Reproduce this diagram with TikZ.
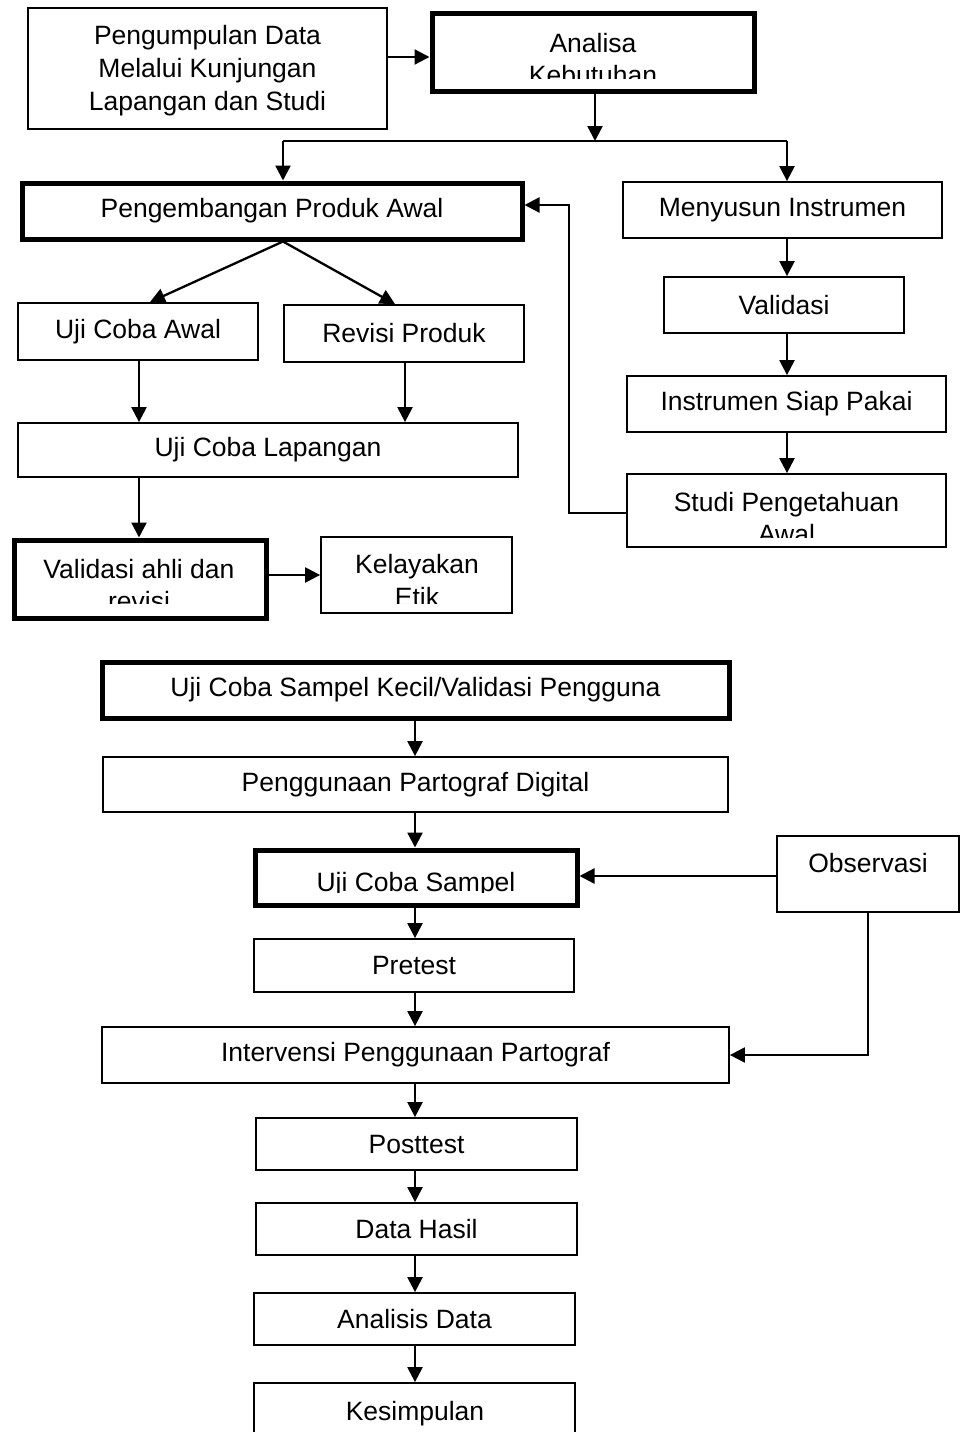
\documentclass[tikz,border=0pt]{standalone}
\usepackage{fontspec}
\setmainfont{Liberation Sans}
\usetikzlibrary{arrows.meta,fit}
\begin{document}
\begin{tikzpicture}[x=1pt,y=-1pt,
  every node/.style={font=\fontsize{26.5}{33}\selectfont},
  tbox/.style={draw, line width=1.8pt, inner sep=0pt},
  kbox/.style={draw, line width=5pt, inner sep=0pt},
  txt/.style={inner sep=0pt, align=center},
  lbl/.style={inner sep=0pt, anchor=base},
  arr/.style={line width=2.3pt, -{Triangle[length=15pt,width=15pt]}},
  ln/.style={line width=2.3pt}]
\fill[white] (0,0) rectangle (960,1432);
\useasboundingbox (0,0) rectangle (960,1432);

% ---------- top part ----------
\node[tbox, fit={(28,8)(387,129)}] (n1) {};
\node[txt] (t1) at (207.5,71) {Pengumpulan Data\\Melalui Kunjungan\\Lapangan dan Studi};

\node[kbox, fit={(432,13)(754,91)}] (n2) {};
\begin{scope}
\clip (432,13) rectangle (754,78);
\node[lbl] (t2a) at (593,52) {Analisa};
\node[lbl] (t2b) at (593,84) {Kebutuhan};
\end{scope}

\coordinate (y57) at (0,57);
\draw[arr] (n1.east |- y57) -- (n2.west |- y57);

\node[kbox, fit={(22,183)(522,239)}] (n3) {};
\node[txt] (t3) at (n3.center) {Pengembangan Produk Awal};
\node[tbox, fit={(623,182)(942,238)}] (n4) {};
\node[txt] (t4) at (n4.center) {Menyusun Instrumen};
\node[tbox, fit={(664,277)(904,333)}] (n5) {};
\node[txt] (t5) at (n5.center) {Validasi};
\node[tbox, fit={(627,376)(946,432)}] (n6) {};
\node[txt] (t6) at (n6.center) {Instrumen Siap Pakai};
\node[tbox, fit={(627,474)(946,547)}] (n7) {};
\begin{scope}
\clip (627,474) rectangle (946,537);
\node[lbl] (t7a) at (786.5,511) {Studi Pengetahuan};
\node[lbl] (t7b) at (786.5,543) {Awal};
\end{scope}

\coordinate (spL) at (283,141);
\coordinate (spM) at (595,141);
\coordinate (spR) at (787,141);
\draw[arr] (n2.south -| spM) -- (spM);
\draw[ln] (spL) -- (spR);
\draw[arr] (spL) -- (spL |- n3.north);
\draw[arr] (spR) -- (spR |- n4.north);

\draw[arr] (n4.south -| spR) -- (n5.north -| spR);
\draw[arr] (n5.south -| spR) -- (n6.north -| spR);
\draw[arr] (n6.south -| spR) -- (n7.north -| spR);

\coordinate (fb) at (569,513);
\coordinate (fb2) at (569,205);
\draw[arr] (n7.west |- fb) -- (fb) -- (fb2) -- (n3.east |- fb2);

\node[tbox, fit={(18,303)(258,360)}] (n8) {};
\node[txt] (t8) at (n8.center) {Uji Coba Awal};
\node[tbox, fit={(284,305)(524,362)}] (n9) {};
\node[txt] (t9) at (n9.center) {Revisi Produk};
\node[tbox, fit={(18,423)(518,477)}] (n10) {};
\node[txt] (t10) at (n10.center) {Uji Coba Lapangan};

\coordinate (xd1) at (150,0);
\coordinate (xd2) at (395,0);
\draw[arr] (n3.south -| spL) -- (n8.north -| xd1);
\draw[arr] (n3.south -| spL) -- (n9.north -| xd2);

\coordinate (xa) at (139,0);
\coordinate (xb) at (405,0);
\draw[arr] (n8.south -| xa) -- (n10.north -| xa);
\draw[arr] (n9.south -| xb) -- (n10.north -| xb);

\node[kbox, fit={(14,540)(266,618)}] (n11) {};
\begin{scope}
\clip (14,540) rectangle (266,603);
\node[lbl] (t11a) at (139,578) {Validasi ahli dan};
\node[lbl] (t11b) at (139,610) {revisi};
\end{scope}
\draw[arr] (n10.south -| xa) -- (n11.north -| xa);

\node[tbox, fit={(321,537)(512,613)}] (n12) {};
\begin{scope}
\clip (321,537) rectangle (512,603);
\node[lbl] (t12a) at (417,573) {Kelayakan};
\node[lbl] (t12b) at (417,606) {Etik};
\end{scope}
\coordinate (y575) at (0,575);
\draw[arr] (n11.east |- y575) -- (n12.west |- y575);

% ---------- bottom part ----------
\node[kbox, fit={(102,662)(729,718)}] (m1) {};
\node[txt] (u1) at (m1.center) {Uji Coba Sampel Kecil/Validasi Pengguna};
\node[tbox, fit={(103,757)(728,812)}] (m2) {};
\node[txt] (u2) at (m2.center) {Penggunaan Partograf Digital};
\node[kbox, fit={(255,850)(577,905)}] (m3) {};
\begin{scope}
\clip (255,850) rectangle (577,892);
\node[lbl] (u3) at (416,891) {Uji Coba Sampel};
\end{scope}
\node[tbox, fit={(777,836)(959,912)}] (m4) {};
\node[lbl] (u4) at (868,872) {Observasi};
\node[tbox, fit={(254,939)(574,992)}] (m6) {};
\node[txt] (u6) at (m6.center) {Pretest};
\node[tbox, fit={(102,1027)(729,1083)}] (m5) {};
\node[txt] (u5) at (m5.center) {Intervensi Penggunaan Partograf};
\node[tbox, fit={(256,1118)(577,1170)}] (m7) {};
\node[txt] (u7) at (m7.center) {Posttest};
\node[tbox, fit={(256,1203)(577,1255)}] (m8) {};
\node[txt] (u8) at (m8.center) {Data Hasil};
\node[tbox, fit={(254,1293)(575,1345)}] (m9) {};
\node[txt] (u9) at (m9.center) {Analisis Data};
\node[tbox, fit={(254,1383)(575,1450)}] (m10) {};
\node[lbl] (u10) at (415,1420) {Kesimpulan};

\coordinate (xm) at (415,0);
\draw[arr] (m1.south -| xm) -- (m2.north -| xm);
\draw[arr] (m2.south -| xm) -- (m3.north -| xm);
\draw[arr] (m3.south -| xm) -- (m6.north -| xm);
\draw[arr] (m6.south -| xm) -- (m5.north -| xm);
\draw[arr] (m5.south -| xm) -- (m7.north -| xm);
\draw[arr] (m7.south -| xm) -- (m8.north -| xm);
\draw[arr] (m8.south -| xm) -- (m9.north -| xm);
\draw[arr] (m9.south -| xm) -- (m10.north -| xm);

\coordinate (y876) at (0,876);
\draw[arr] (m4.west |- y876) -- (m3.east |- y876);
\draw[arr] (m4.south) -- (m4.south |- m5.east) -- (m5.east);
\end{tikzpicture}
\end{document}
